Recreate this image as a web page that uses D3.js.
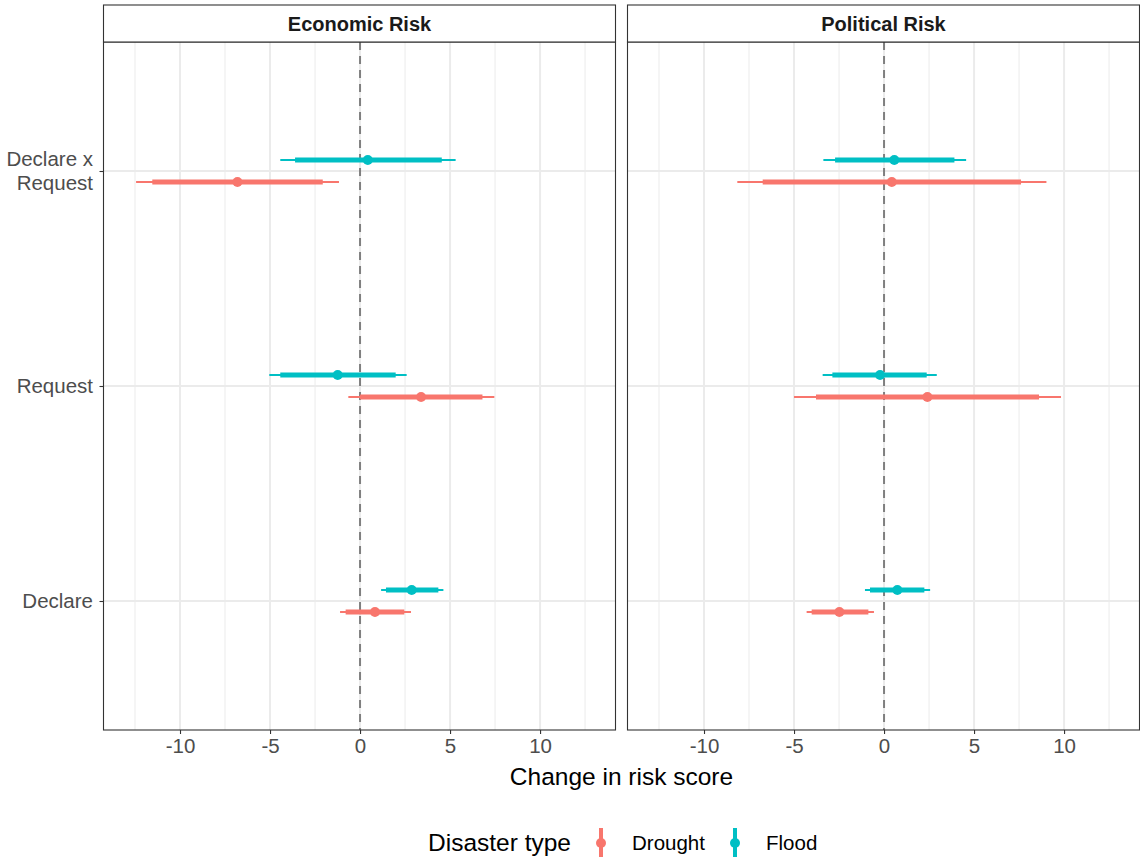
<!DOCTYPE html>
<html><head><meta charset="utf-8">
<script src="https://cdn.jsdelivr.net/npm/d3@7"></script>
<style>body{margin:0;background:#fff}svg{display:block;font-family:"Liberation Sans",Arial,Helvetica,sans-serif}</style>
</head><body><svg id="c" width="1140" height="859"></svg>
<script>
const panels = ["Economic Risk", "Political Risk"];
const terms = ["Declare x Request", "Request", "Declare"];
const types = ["Drought", "Flood"];
const colors = ["#F8766D", "#00BFC4"];
const xTicks = [-10, -5, 0, 5, 10];
// rows: panel, term, type, estimate, lo95, lo80(thick), hi80(thick), hi95
const panelCol = ["Economic Risk","Economic Risk","Economic Risk","Economic Risk","Economic Risk","Economic Risk","Political Risk","Political Risk","Political Risk","Political Risk","Political Risk","Political Risk"];
const termCol = ["Declare x Request","Declare x Request","Request","Request","Declare","Declare","Declare x Request","Declare x Request","Request","Request","Declare","Declare"];
const typeCol = ["Drought","Flood","Drought","Flood","Drought","Flood","Drought","Flood","Drought","Flood","Drought","Flood"];
const estimate = [-6.81, 0.43, 3.39, -1.24, 0.83, 2.87, 0.43, 0.57, 2.41, -0.22, -2.48, 0.74];
const lo95 = [-12.44, -4.43, -0.65, -5.04, -1.11, 1.17, -8.15, -3.37, -5.0, -3.41, -4.30, -1.06];
const lo80 = [-11.54, -3.61, 0.0, -4.43, -0.80, 1.44, -6.74, -2.72, -3.78, -2.87, -4.02, -0.78];
const hi80 = [-2.07, 4.54, 6.80, 1.98, 2.46, 4.35, 7.61, 3.91, 8.61, 2.37, -0.87, 2.24];
const hi95 = [-1.17, 5.31, 7.46, 2.59, 2.83, 4.63, 9.02, 4.56, 9.83, 2.93, -0.56, 2.56];

const rows = estimate.map((e,i)=>({panel:panelCol[i],term:termCol[i],type:typeCol[i],est:e,lo95:lo95[i],lo80:lo80[i],hi80:hi80[i],hi95:hi95[i]}));

const svg = d3.select("#c");
const panelX = [103.5, 627.5], panelW = 512, pTop = 42, pBottom = 730, stripTop = 5;
const y = d3.scalePoint().domain(terms).range([pTop, pBottom]).padding(0.6);
const dodge = d3.scalePoint().domain(["Flood","Drought"]).range([-11, 11]);
const color = d3.scaleOrdinal().domain(types).range(colors);

panels.forEach((p, pi) => {
  const x0 = panelX[pi];
  const x = d3.scaleLinear().domain([-14.25, 14.19]).range([x0, x0 + panelW]);
  const g = svg.append("g");
  const minor = d3.range(-12.5, 13, 5);
  g.selectAll(".mn").data(minor).join("line").attr("x1",d=>x(d)).attr("x2",d=>x(d)).attr("y1",pTop).attr("y2",pBottom)
    .attr("stroke","#EBEBEB").attr("stroke-width",1);
  g.selectAll(".mj").data(xTicks).join("line").attr("x1",d=>x(d)).attr("x2",d=>x(d)).attr("y1",pTop).attr("y2",pBottom)
    .attr("stroke","#EBEBEB").attr("stroke-width",2);
  g.selectAll(".hy").data(terms).join("line").attr("x1",x0).attr("x2",x0+panelW).attr("y1",d=>y(d)).attr("y2",d=>y(d))
    .attr("stroke","#EBEBEB").attr("stroke-width",2);
  g.append("line").attr("x1",x(0)).attr("x2",x(0)).attr("y1",pTop).attr("y2",pBottom)
    .attr("stroke","#7F7F7F").attr("stroke-width",2).attr("stroke-dasharray","8,6");
  const data = rows.filter(r=>r.panel===p);
  const yy = d => y(d.term) + dodge(d.type);
  g.selectAll(".thin").data(data).join("line").attr("x1",d=>x(d.lo95)).attr("x2",d=>x(d.hi95)).attr("y1",yy).attr("y2",yy)
    .attr("stroke",d=>color(d.type)).attr("stroke-width",2);
  g.selectAll(".thick").data(data).join("line").attr("x1",d=>x(d.lo80)).attr("x2",d=>x(d.hi80)).attr("y1",yy).attr("y2",yy)
    .attr("stroke",d=>color(d.type)).attr("stroke-width",5);
  g.selectAll(".pt").data(data).join("circle").attr("cx",d=>x(d.est)).attr("cy",yy).attr("r",5)
    .attr("fill",d=>color(d.type));
  g.append("rect").attr("x",x0).attr("y",pTop).attr("width",panelW).attr("height",pBottom-pTop)
    .attr("fill","none").attr("stroke","#333333").attr("stroke-width",1.1);
  g.append("rect").attr("x",x0).attr("y",stripTop).attr("width",panelW).attr("height",pTop-stripTop)
    .attr("fill","#fff").attr("stroke","#333333").attr("stroke-width",1.1);
  g.append("text").attr("x",x0+panelW/2).attr("y",(stripTop+pTop)/2+7).attr("text-anchor","middle")
    .attr("font-size",20).attr("font-weight","bold").attr("fill","#1A1A1A").text(p);
  const ax = d3.axisBottom(x).tickValues(xTicks).tickSize(4).tickPadding(4).tickFormat(d => String(d));
  const axg = g.append("g").attr("transform",`translate(0,${pBottom})`).call(ax);
  axg.select(".domain").remove();
  axg.selectAll(".tick line").attr("stroke","#333333").attr("stroke-width",1.1);
  axg.selectAll(".tick text").attr("font-size",20.5).attr("fill","#4D4D4D").attr("font-family","Liberation Sans, Arial, sans-serif");
  if (pi === 0) {
    const ay = d3.axisLeft(y).tickSize(4).tickPadding(5).tickFormat("");
    const ayg = g.append("g").attr("transform",`translate(${x0},0)`).call(ay);
    ayg.select(".domain").remove();
    ayg.selectAll(".tick line").attr("stroke","#333333").attr("stroke-width",1.1);
    terms.forEach(t => {
      const lines = t === "Declare x Request" ? ["Declare x", "Request"] : [t];
      const tx = g.append("text").attr("text-anchor","end").attr("font-size",20.5).attr("fill","#4D4D4D");
      const y0 = y(t) + 7 - (lines.length-1)*12;
      lines.forEach((l,li)=> tx.append("tspan").attr("x",93).attr("y",y0+li*24).text(l));
    });
  }
});
svg.append("text").attr("x",(103.5+1139.5)/2).attr("y",785).attr("text-anchor","middle").attr("font-size",24.5).attr("fill","#000").text("Change in risk score");
const lg = svg.append("g");
lg.append("text").attr("x",428).attr("y",851).attr("font-size",24.5).attr("fill","#000").text("Disaster type");
const keyX = [601, 735], labX = [632, 766];
types.forEach((t,i)=>{
  lg.append("line").attr("x1",keyX[i]).attr("x2",keyX[i]).attr("y1",828).attr("y2",857).attr("stroke",color(t)).attr("stroke-width",4);
  lg.append("circle").attr("cx",keyX[i]).attr("cy",843).attr("r",5).attr("fill",color(t));
  lg.append("text").attr("x",labX[i]).attr("y",850).attr("font-size",20.5).attr("fill","#000").text(t);
});
</script></body></html>
